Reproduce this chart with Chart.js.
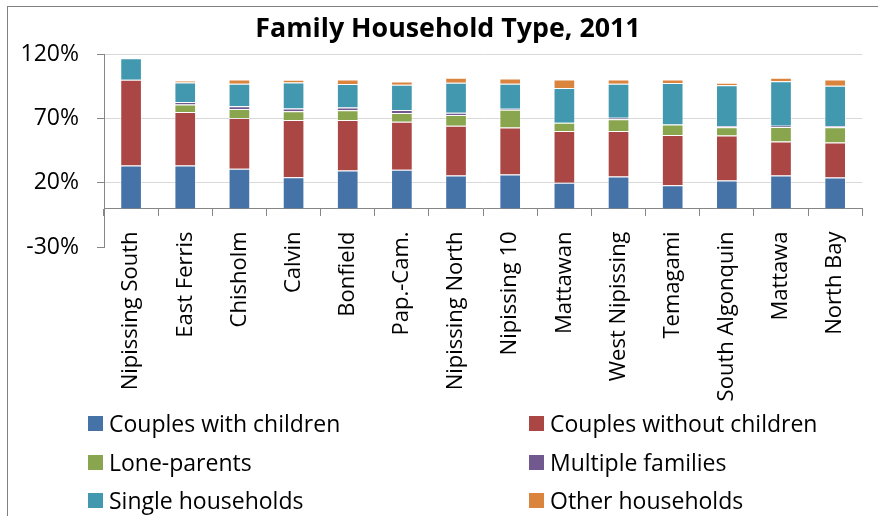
<!DOCTYPE html>
<html lang="en">
<head>
    <meta charset="UTF-8">
    <title>Family Household Type, 2011</title>
    <script src="https://cdn.jsdelivr.net/npm/chart.js"></script>
    <style>
        body { margin: 0; background: #fff; }
        #wrap { position: relative; width: 878px; height: 516px; overflow: hidden; }
        #frame { position: absolute; left: 7px; top: 6px; right: -2px; bottom: -2px; border-left: 1px solid #7f7f7f; border-top: 1px solid #7f7f7f; pointer-events: none; }
        .lg { position: absolute; height: 30px; display: flex; align-items: center; font-family: "Open Sans", sans-serif; font-size: 23px; color: #000; white-space: nowrap; }
        .lg span { display: inline-block; width: 15px; height: 15px; margin-right: 6px; }
    </style>
</head>
<body>
    <div id="wrap">
        <canvas id="householdChart" width="878" height="516"></canvas>
        <div id="frame"></div>
        <div id="legend"></div>
    </div>

    <script>
        // valeurs (% des ménages)
        const places = ['Nipissing South', 'East Ferris', 'Chisholm', 'Calvin', 'Bonfield', 'Pap.-Cam.',
            'Nipissing North', 'Nipissing 10', 'Mattawan', 'West Nipissing', 'Temagami', 'South Algonquin', 'Mattawa', 'North Bay'];

        const couplesWithChildren = [33.4, 33.4, 30.8, 24.3, 29.5, 30.0, 25.7, 26.4, 19.9, 24.9, 18.1, 21.8, 25.7, 24.1];
        const couplesWithoutChildren = [66.7, 41.6, 39.5, 44.5, 39.3, 37.5, 38.7, 36.5, 40.3, 35.3, 39.0, 34.9, 26.3, 27.1];
        const loneParents = [0, 5.9, 7.0, 6.7, 7.5, 6.7, 8.2, 13.9, 6.5, 9.1, 8.1, 6.4, 11.3, 11.9];
        const multipleFamilies = [0, 1.8, 2.1, 2.3, 2.3, 2.3, 1.9, 0.8, 0, 1.3, 0, 1.0, 1.1, 1.0];
        const singleHouseholds = [16.8, 15.3, 17.6, 20.2, 18.1, 19.7, 23.2, 19.4, 26.9, 26.4, 32.3, 31.8, 34.6, 31.3];
        const otherHouseholds = [0, 1.5, 3.3, 2.1, 3.6, 2.6, 3.9, 4.1, 6.7, 3.3, 2.8, 1.8, 2.6, 4.9];

        const yTicks = [-30, 20, 70, 120];

        const seriesNames = ['Couples with children', 'Couples without children', 'Lone-parents',
            'Multiple families', 'Single households', 'Other households'];
        const seriesColors = ['#4572A7', '#AA4643', '#89A54E', '#71588F', '#4198AF', '#DB843D'];
        const seriesData = [couplesWithChildren, couplesWithoutChildren, loneParents,
            multipleFamilies, singleHouseholds, otherHouseholds];

        const datasets = seriesNames.map((name, i) => ({
            label: name,
            data: seriesData[i],
            backgroundColor: seriesColors[i],
            borderColor: 'rgba(255,255,255,0.45)',
            borderWidth: 1,
            barPercentage: 0.4,
            categoryPercentage: 1,
            yAxisID: 'y'
        }));

        const ctx = document.getElementById('householdChart').getContext('2d');
        const chart = new Chart(ctx, {
            type: 'bar',
            data: { labels: places, datasets: datasets },
            options: {
                responsive: false,
                animation: false,
                // padding droit négatif + axe vide à droite : décale le titre comme dans l'original
                layout: { padding: { left: 8, right: -10, top: 0, bottom: 269 } },
                plugins: {
                    legend: { display: false },
                    tooltip: { enabled: false },
                    title: {
                        display: true,
                        text: 'Family Household Type, 2011',
                        color: '#000',
                        font: { family: 'Open Sans', size: 26.8, weight: 'bold', lineHeight: 1.2 },
                        padding: { top: 13, bottom: 9 }
                    }
                },
                scales: {
                    x: {
                        stacked: true,
                        position: { y: 0 },
                        grid: { drawOnChartArea: false, drawTicks: true, tickLength: 7, color: '#868686', offset: true },
                        border: { display: true, color: '#868686', width: 1 },
                        ticks: {
                            color: '#000',
                            font: { family: 'Open Sans', size: 22 },
                            minRotation: 90,
                            maxRotation: 90,
                            padding: 16,
                            autoSkip: false
                        }
                    },
                    y: {
                        stacked: true,
                        min: -30,
                        max: 120,
                        afterBuildTicks: scale => { scale.ticks = yTicks.map(v => ({ value: v })); },
                        afterFit: scale => { scale.width = 96; },
                        grid: {
                            color: c => (c.tick && c.tick.value === -30) ? 'rgba(0,0,0,0)' : '#D9D9D9',
                            tickColor: '#868686',
                            tickLength: 7
                        },
                        border: { display: true, color: '#868686', width: 1 },
                        ticks: {
                            color: '#000',
                            font: { family: 'Open Sans', size: 23 },
                            padding: 18,
                            callback: v => v + '%'
                        }
                    },
                    yRight: {
                        position: 'right',
                        min: -30,
                        max: 120,
                        grid: { display: false },
                        border: { display: false },
                        ticks: { display: false },
                        afterFit: scale => { scale.width = 22; }
                    }
                }
            }
        });

        // légende en deux colonnes, comme dans Excel
        const legendPos = [[88, 408], [529, 408], [88, 447], [529, 447], [88, 485], [529, 485]];
        const legendBox = document.getElementById('legend');
        chart.data.datasets.forEach((ds, i) => {
            const item = document.createElement('div');
            item.className = 'lg';
            item.style.left = legendPos[i][0] + 'px';
            item.style.top = legendPos[i][1] + 'px';
            item.innerHTML = '<span style="background:' + ds.backgroundColor + '"></span>' + ds.label;
            legendBox.appendChild(item);
        });
    </script>
</body>
</html>
